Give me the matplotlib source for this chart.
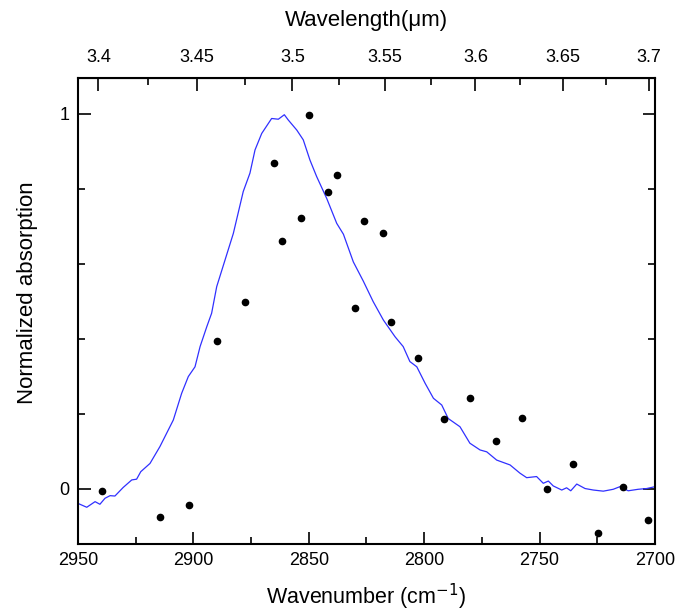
import numpy as np
import matplotlib
matplotlib.use("Agg")
import matplotlib.pyplot as plt
from matplotlib.ticker import MultipleLocator, FixedLocator

plt.rcParams['font.family'] = ['Liberation Sans', 'DejaVu Sans']

# measured points (wavenumber, normalized absorption)
point_wn = [2939.5, 2914.3, 2901.9, 2889.8, 2877.5, 2865.2, 2861.6, 2853.4, 2849.8,
            2841.8, 2837.8, 2829.9, 2826.2, 2818.0, 2814.5, 2802.8, 2791.4, 2780.0,
            2768.8, 2757.6, 2746.7, 2735.5, 2724.6, 2713.7, 2703.0]
point_abs = [-0.007, -0.075, -0.045, 0.395, 0.497, 0.870, 0.661, 0.721, 0.998,
             0.791, 0.838, 0.481, 0.715, 0.683, 0.445, 0.349, 0.185, 0.242,
             0.128, 0.188, 0.000, 0.065, -0.118, 0.005, -0.084]

# reference spectrum (blue line)
curve_wn = [2949.9, 2946.2, 2942.6, 2940.5, 2938.3, 2936.1, 2934.0, 2930.4, 2926.7,
            2924.6, 2922.8, 2918.8, 2914.5, 2908.7, 2905.1, 2902.2, 2899.3, 2897.1,
            2894.2, 2892.1, 2889.9, 2886.3, 2882.7, 2878.4, 2875.5, 2873.3, 2870.4,
            2866.1, 2863.2, 2860.6, 2858.9, 2855.2, 2852.4, 2849.5, 2846.6, 2842.2,
            2837.9, 2835.0, 2830.7, 2826.4, 2822.1, 2817.7, 2812.6, 2809.1, 2806.2,
            2803.2, 2799.6, 2796.0, 2792.4, 2789.6, 2784.5, 2780.2, 2775.8, 2772.9,
            2768.6, 2762.8, 2758.5, 2755.6, 2751.3, 2748.4, 2746.2, 2744.1, 2740.4,
            2738.3, 2736.5, 2733.9, 2730.3, 2726.7, 2722.4, 2718.1, 2715.2, 2711.6,
            2707.3, 2703.6, 2700.0]
curve_abs = [-0.040, -0.050, -0.035, -0.042, -0.026, -0.019, -0.020, 0.003, 0.023,
             0.025, 0.045, 0.067, 0.112, 0.183, 0.254, 0.299, 0.325, 0.379,
             0.432, 0.468, 0.539, 0.610, 0.681, 0.793, 0.842, 0.904, 0.948,
             0.988, 0.986, 0.998, 0.984, 0.957, 0.931, 0.877, 0.833, 0.774,
             0.708, 0.679, 0.605, 0.554, 0.499, 0.450, 0.405, 0.379, 0.339,
             0.325, 0.281, 0.241, 0.223, 0.187, 0.165, 0.121, 0.103, 0.098,
             0.076, 0.063, 0.041, 0.029, 0.032, 0.014, 0.020, 0.007, -0.004,
             0.002, -0.006, 0.012, 0.000, -0.004, -0.007, -0.002, 0.005, -0.006,
             -0.002, 0.000, 0.005]

wl_ticks = [3.4, 3.45, 3.5, 3.55, 3.6, 3.65, 3.7]
wl_labels = ['3.4', '3.45', '3.5', '3.55', '3.6', '3.65', '3.7']

fig = plt.figure(figsize=(6.77, 6.11), dpi=100)
ax = fig.add_axes([0.1152, 0.1097, 0.8523, 0.7626])

ax.plot(curve_wn, curve_abs, color='#3030ff', lw=0.9)
ax.plot(point_wn, point_abs, 'o', color='black', ms=4.5, mec='black')

ax.set_xlim(2950, 2700)
ax.set_ylim(-0.148, 1.096)

ax.xaxis.set_major_locator(MultipleLocator(50))
ax.xaxis.set_minor_locator(MultipleLocator(25))
ax.yaxis.set_major_locator(FixedLocator([0, 1]))
ax.yaxis.set_minor_locator(FixedLocator([0.2, 0.4, 0.6, 0.8]))
ax.tick_params(which='both', direction='in', labelsize=13, width=1.2,
               right=True, pad=6)
ax.tick_params(which='major', length=9)
ax.tick_params(which='minor', length=5)
for s in ax.spines.values():
    s.set_linewidth(1.5)

ax.set_xlabel('Wavenumber (cm$^{-1}$)', fontsize=15.5, labelpad=9)
ax.set_ylabel('Normalized absorption', fontsize=16)
ax.yaxis.set_label_coords(-0.069, 0.539)

# top axis: wavelength in micrometres
top = ax.secondary_xaxis('top', functions=(lambda x: 1e4 / np.asarray(x, float),
                                           lambda x: 1e4 / np.asarray(x, float)))
top.xaxis.set_major_locator(FixedLocator(wl_ticks))
top.xaxis.set_minor_locator(FixedLocator([3.425, 3.475, 3.525, 3.575, 3.625, 3.675]))
top.set_xticklabels(wl_labels)
top.tick_params(which='both', direction='in', labelsize=13, width=1.2, pad=9)
top.tick_params(which='major', length=9)
top.tick_params(which='minor', length=5)
top.set_xlabel('Wavelength(\u03bcm)', fontsize=16, labelpad=16)

fig.savefig('out.png', dpi=100)
